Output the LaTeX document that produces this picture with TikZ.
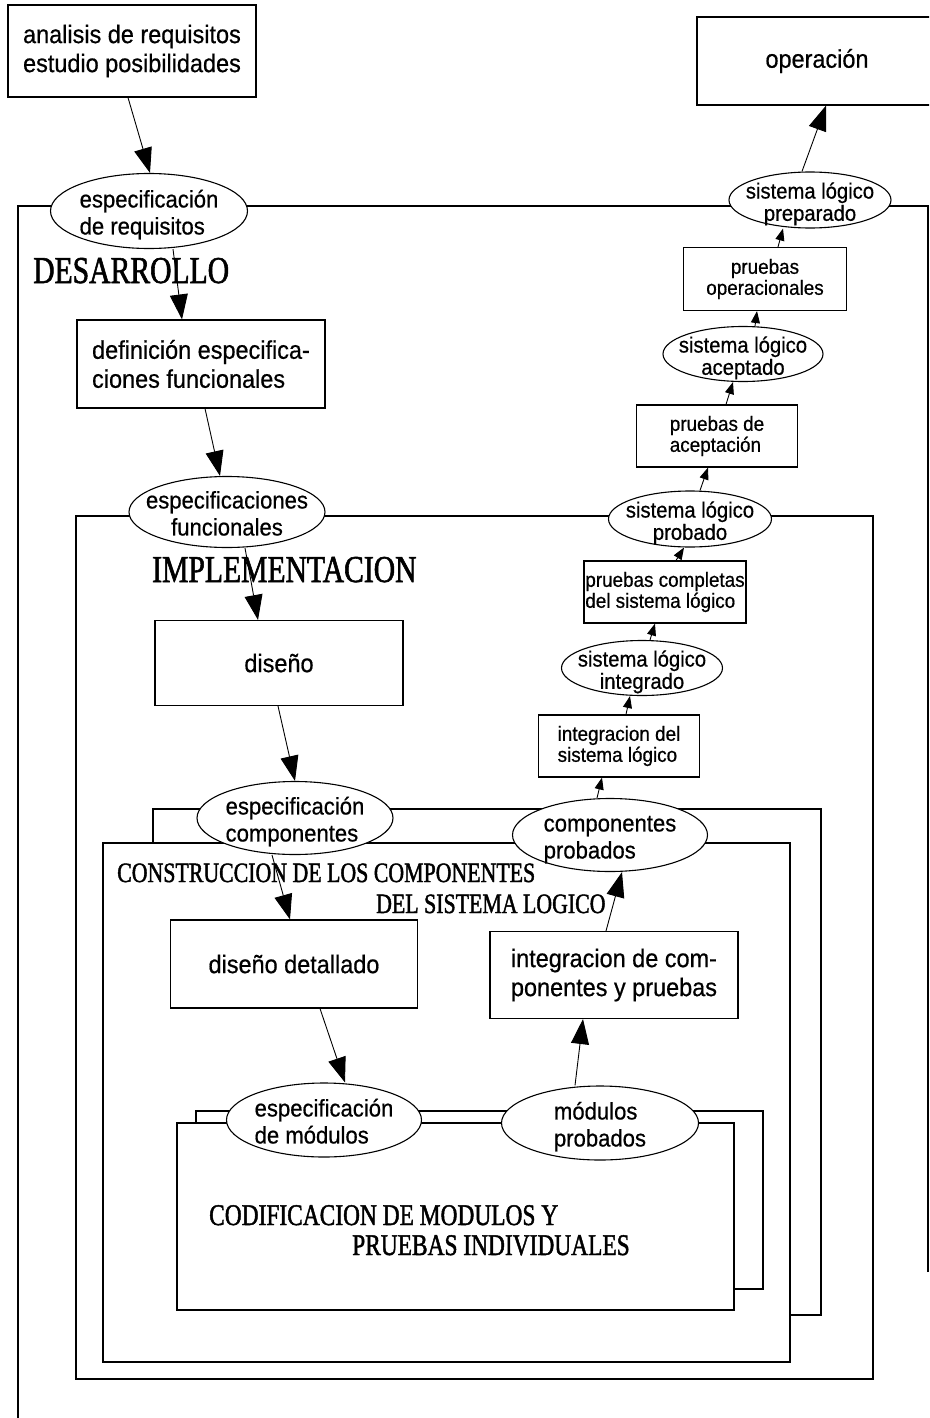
\documentclass[tikz,border=0pt]{standalone}
\usepackage{fontspec}
\setmainfont{Liberation Sans}
\newfontfamily\letra[FakeStretch=0.92,FakeBold=0.6]{Liberation Sans}
\newfontfamily\titulo[FakeStretch=0.78,FakeBold=1.5]{Liberation Serif}
\usetikzlibrary{shapes.geometric,arrows.meta}
% texto dentro de una elipse sin cambiar su tamano
\newcommand{\dentro}[2][l]{\smash{\makebox[0pt]{\raisebox{-.45em}{\begin{tabular}{@{}#1@{}}#2\end{tabular}}}}}

\begin{document}
\begin{tikzpicture}[x=1pt,y=-1pt,
	caja/.style={draw,fill=white,line width=1.1pt,inner sep=0pt,font=\letra\fontsize{25.5}{29}\selectfont},
	cajita/.style={caja,font=\letra\fontsize{20.5}{21}\selectfont},
	elipse/.style={ellipse,draw,fill=white,line width=1.1pt,inner sep=0pt,font=\letra\fontsize{24}{27}\selectfont},
	elipsita/.style={elipse,font=\letra\fontsize{22}{21}\selectfont},
	marco/.style={draw,fill=white,line width=1.1pt},
	fase/.style={inner sep=0pt,anchor=base west,align=left},
	flecha/.style={-{Triangle[length=25pt,width=18pt]},line width=0.9pt},
	flechita/.style={-{Triangle[length=12pt,width=9pt]},line width=0.9pt}]
		\useasboundingbox (0,0) rectangle (929,1418);
		\clip (0,0) rectangle (929,1418);
		% marcos
		\draw[line width=1.1pt] (928,1272)--(928,206)--(18,206)--(18,1418);
		\draw[marco] (76,516) rectangle (873,1379);
		\draw[marco] (153,809) rectangle (821,1315);
		\draw[marco] (103,843) rectangle (790,1362);
		\draw[marco] (196,1111) rectangle (763,1289);
		\draw[marco] (177,1123) rectangle (734,1310);
		% bajada
		\node[caja,minimum width=248,minimum height=92,align=left] (req) at (132,51) {analisis de requisitos\\estudio posibilidades};
		\node[elipse,minimum width=197,minimum height=75] (ereq) at (149,211) {\dentro{especificación\\de requisitos}};
		\node[caja,minimum width=248,minimum height=88,align=left] (defin) at (201,364) {definición especifica-\\ciones funcionales};
		\node[elipse,minimum width=196,minimum height=71] (efun) at (227,512) {\dentro[c]{especificaciones\\funcionales}};
		\node[caja,minimum width=248,minimum height=85] (dis) at (279,663) {diseño};
		\node[elipse,minimum width=196,minimum height=73] (ecomp) at (295,818) {\dentro{especificación\\componentes}};
		\node[caja,minimum width=247,minimum height=88] (disdet) at (294,964) {diseño detallado};
		\node[elipse,minimum width=195,minimum height=74] (emod) at (324,1120) {\dentro{especificación\\de módulos}};
		% subida
		\node[elipse,minimum width=197,minimum height=74] (emodp) at (600,1123) {\dentro{módulos\\probados}};
		\node[caja,minimum width=248,minimum height=87,align=left] (intcomp) at (614,975) {integracion de com-\\ponentes y pruebas};
		\node[elipse,minimum width=195,minimum height=73] (ecompp) at (610,835) {\dentro{componentes\\probados}};
		\node[cajita,minimum width=161,minimum height=62,align=left] (intsis) at (619,746) {integracion del\\sistema lógico};
		\node[elipsita,minimum width=161,minimum height=55] (eint) at (642,668) {\dentro[c]{sistema lógico\\integrado}};
		\node[cajita,minimum width=162,minimum height=62,align=left] (pcomp) at (665,592) {pruebas completas\\del sistema lógico};
		\node[elipsita,minimum width=163,minimum height=56] (eprob) at (690,519) {\dentro[c]{sistema lógico\\probado}};
		\node[cajita,minimum width=161,minimum height=62,align=left] (pacep) at (717,436) {pruebas de\\aceptación};
		\node[elipsita,minimum width=160,minimum height=55] (eacep) at (743,354) {\dentro[c]{sistema lógico\\aceptado}};
		\node[cajita,minimum width=163,minimum height=63,align=center] (pop) at (765,279) {pruebas\\operacionales};
		\node[elipsita,minimum width=162,minimum height=56] (eprep) at (810,200) {\dentro[c]{sistema lógico\\preparado}};
		\node[caja,minimum width=240,minimum height=88] (op) at (817,61) {operación};
		% fases
		\node[fase,font=\titulo\fontsize{38}{38}\selectfont] (desa) at (33,283) {DESARROLLO};
		\node[fase,font=\titulo\fontsize{38}{38}\selectfont] (impl) at (152,582) {IMPLEMENTACION};
		\node[fase,font=\titulo\fontsize{28}{31}\selectfont] (cons) at (117,913) {CONSTRUCCION DE LOS COMPONENTES\\\hspace*{259pt}DEL SISTEMA LOGICO};
		\node[fase,font=\titulo\fontsize{30}{30}\selectfont] (codi) at (209,1255) {CODIFICACION DE MODULOS Y\\\hspace*{143pt}PRUEBAS INDIVIDUALES};
		% flechas
		\draw[flecha] ([xshift=-4]req.south)--([xshift=1]ereq.north);
		\draw[flecha] ([xshift=24]ereq.south)--([xshift=-19]defin.north);
		\draw[flecha] ([xshift=4]defin.south)--([xshift=-7]efun.north);
		\draw[flecha] ([xshift=18]efun.south)--([xshift=-21]dis.north);
		\draw[flecha] ([xshift=-1]dis.south)--(ecomp.north);
		\draw[flecha] ([xshift=-23]ecomp.south)--([xshift=-4]disdet.north);
		\draw[flecha] ([xshift=26]disdet.south)--([xshift=21]emod.north);
		\draw[flecha] ([xshift=-25]emodp.north)--([xshift=-31]intcomp.south);
		\draw[flecha] ([xshift=-8]intcomp.north)--([xshift=12]ecompp.south);
		\draw[flechita] ([xshift=-13]ecompp.north)--([xshift=-17]intsis.south);
		\draw[flechita] ([xshift=7]intsis.north)--([xshift=-12]eint.south);
		\draw[flechita] ([xshift=8]eint.north)--([xshift=-10]pcomp.south);
		\draw[flechita] ([xshift=11]pcomp.north)--([xshift=-6]eprob.south);
		\draw[flechita] ([xshift=10]eprob.north)--([xshift=-9]pacep.south);
		\draw[flechita] ([xshift=9]pacep.north)--([xshift=-10]eacep.south);
		\draw[flechita] ([xshift=12]eacep.north)--([xshift=-8]pop.south);
		\draw[flechita] ([xshift=13]pop.north)--([xshift=-27]eprep.south);
		\draw[flecha] ([xshift=-8]eprep.north)--([xshift=9]op.south);
\end{tikzpicture}
\end{document}
